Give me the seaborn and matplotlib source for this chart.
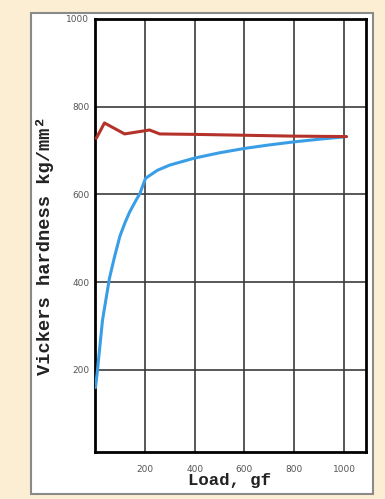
import matplotlib
matplotlib.use("Agg")
import matplotlib.pyplot as plt
from matplotlib.patches import Rectangle
import seaborn as sns
import pandas as pd

# Vickers hardness vs. indentation load
red_load = [5, 38, 119, 219, 260, 400, 600, 800, 1010]
red_hv = [728, 763, 738, 747, 738, 737, 735, 733, 732]

blue_load = [2, 10, 30, 58, 78, 100, 120, 139, 160, 180, 203, 250, 300, 400, 500, 600, 700, 800, 900, 995]
blue_hv = [160, 200, 313, 409, 457, 505, 535, 560, 582, 602, 637, 655, 667, 683, 695, 705, 713, 720, 726, 731]

x_ticks = [200, 400, 600, 800, 1000]
y_ticks = [200, 400, 600, 800, 1000]

sns.set_style("white")
plt.rcParams["font.family"] = ["DejaVu Sans"]

W, H = 385, 499
fig = plt.figure(figsize=(W / 100, H / 100), dpi=100, facecolor="#FBEED3")

# white card with a grey frame behind the plot
fig.patches.append(Rectangle((31 / W, 1 - 494 / H), (373 - 31) / W, (494 - 13) / H,
                             transform=fig.transFigure, facecolor="white",
                             edgecolor="#8a8a8a", linewidth=1.5, zorder=-5))

ax = fig.add_axes([95 / W, 1 - 452 / H, (366 - 95) / W, (452 - 19) / H])
ax.set_zorder(5)
ax.set_facecolor("white")

red = pd.DataFrame({"load": red_load, "hv": red_hv})
blue = pd.DataFrame({"load": blue_load, "hv": blue_hv})
sns.lineplot(data=blue, x="load", y="hv", ax=ax, color="#3A9EE6", linewidth=2.2, zorder=3)
sns.lineplot(data=red, x="load", y="hv", ax=ax, color="#B5322A", linewidth=2.2, zorder=4)

ax.set_xlim(0, 1088)
ax.set_ylim(13, 1000)
ax.set_xticks(x_ticks)
ax.set_yticks(y_ticks)
ax.set_xticklabels([str(v) for v in x_ticks], fontsize=6.5, color="#555555")
ax.set_yticklabels([str(v) for v in y_ticks], fontsize=6.5, color="#555555")
ax.tick_params(axis="y", length=3, width=1, color="#333333", pad=1)
ax.tick_params(axis="x", length=0, pad=9)

ax.grid(True, color="#3a3a3a", linewidth=1.4, alpha=0.85)
ax.set_axisbelow(True)
for s in ax.spines.values():
    s.set_visible(True)
    s.set_color("black")
    s.set_linewidth(2)

# axis titles placed on the card
ax.set_xlabel("")
ax.set_ylabel("")
fig.text(230 / W, 1 - 481 / H, "Load, gf", fontsize=12.5, fontweight="bold",
         family="Liberation Mono", color="#222222", ha="center", va="center")
fig.text(45 / W, 1 - 246 / H, "Vickers hardness kg/mm²", fontsize=13.5, fontweight="bold",
         family="Liberation Mono", color="#222222", ha="center", va="center", rotation=90)

fig.savefig("out.png", dpi=100, facecolor=fig.get_facecolor())
